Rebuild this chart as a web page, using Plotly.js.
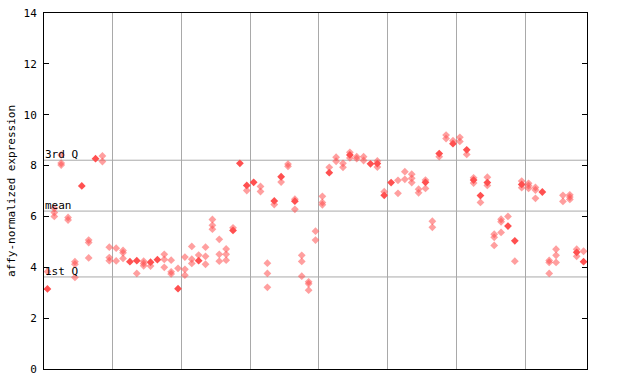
<!DOCTYPE html>
<html>
<head>
<meta charset="utf-8">
<script src="https://cdn.plot.ly/plotly-3.0.1.min.js"></script>
<style>html,body{margin:0;padding:0;background:#fff}#chart{width:640px;height:384px}</style>
</head>
<body>
<div id="chart"></div>
<script>
// Sample index (0..78) and values for the solid diamonds
const solidX = [0,5,7,12,13,15,16,19,22,27,28,29,30,33,34,36,41,44,47,48,49,50,55,57,59,61,62,63,64,67,68,69,72,77,78];
const solidY = [3.15,7.2,8.27,4.22,4.26,4.2,4.3,3.16,4.26,5.45,8.09,7.22,7.34,6.61,7.56,6.6,7.72,8.42,8.07,8.08,6.83,7.33,7.34,8.47,8.86,8.62,7.43,6.82,7.33,5.62,5.04,7.26,6.96,4.59,4.22];

// Sample index and values for the hatched (lighter) diamonds
const hatchX = [0,1,1,1,2,2,2,3,3,4,4,4,6,6,6,8,8,9,9,9,10,10,11,11,11,13,14,14,14,15,17,17,17,18,18,18,19,20,20,20,21,21,21,22,23,23,23,24,24,24,25,25,25,26,26,26,27,29,31,31,32,32,32,33,34,35,35,36,36,37,37,37,38,38,38,39,39,
  40,40,40,41,42,42,43,43,44,44,45,45,46,46,48,48,49,51,51,52,52,53,53,53,54,54,55,55,56,56,57,58,58,59,60,60,61,62,62,63,64,64,65,65,65,66,66,66,67,68,69,69,70,70,70,71,71,71,73,73,73,74,74,74,75,75,76,76,76,77,77,78];
const hatchY = [3.83,6.32,6.15,6.0,8.42,8.1,8.02,5.96,5.86,4.22,4.12,3.6,5.07,4.97,4.37,8.38,8.16,4.79,4.38,4.26,4.75,4.25,4.66,4.57,4.35,3.76,4.24,4.15,4.06,4.05,4.51,4.31,4.0,4.28,3.82,3.74,3.96,4.4,3.92,3.69,4.82,4.32,4.15,4.48,4.79,4.43,4.12,5.88,5.65,5.5,5.1,4.51,4.24,4.72,4.51,4.28,5.55,7.02,7.18,6.98,4.16,3.76,3.21,6.47,7.35,8.06,7.97,6.68,6.28,4.47,4.23,3.65,3.43,3.35,3.1,5.42,5.07,
  6.79,6.55,6.46,7.93,8.33,8.17,8.09,7.93,8.52,8.3,8.35,8.27,8.35,8.2,8.18,7.94,6.97,7.42,6.91,7.76,7.46,7.66,7.5,7.33,7.07,6.93,7.43,7.1,5.81,5.57,8.35,9.2,9.06,8.98,9.11,8.95,8.44,7.52,7.31,6.55,7.54,7.22,5.3,5.18,4.86,5.89,5.79,5.37,6.0,4.24,7.39,7.13,7.3,7.21,7.1,7.14,7.04,6.71,4.27,4.19,3.76,4.71,4.47,4.19,6.83,6.59,6.85,6.76,6.67,4.71,4.43,4.63];

// Reference lines
const refNames = ["3rd Q", "mean", "1st Q"];
const refValues = [8.21, 6.21, 3.62];

// Group separators (every 10 samples)
const groupBreaks = [9.5, 19.5, 29.5, 39.5, 49.5, 59.5, 69.5];
const nSamples = 79;

const yTicks = [0, 2, 4, 6, 8, 10, 12, 14];

const font = {family: "DejaVu Sans Mono, monospace", size: 11, color: "#000"};

const traces = [
  {x: hatchX, y: hatchY, type: "scatter", mode: "markers", hoverinfo: "skip",
   marker: {symbol: "diamond", size: 6, color: "rgba(255,80,80,0.55)", line: {width: 0}}},
  {x: solidX, y: solidY, type: "scatter", mode: "markers", hoverinfo: "skip",
   marker: {symbol: "diamond", size: 6, color: "#ff5050", line: {width: 0}}}
];

const shapes = refValues.map(v => ({
  type: "line", xref: "paper", x0: 0, x1: 1, yref: "y", y0: v, y1: v,
  line: {color: "#a9a9a9", width: 1}, layer: "below"
}));

const annotations = refValues.map((v, i) => ({
  xref: "paper", x: 0, xanchor: "left", yref: "y", y: v, yanchor: "bottom",
  text: refNames[i], showarrow: false, font: font, borderpad: 0, yshift: -2
}));

const layout = {
  width: 640, height: 384,
  margin: {l: 44, r: 53, t: 13, b: 15},
  paper_bgcolor: "#fff", plot_bgcolor: "#fff",
  showlegend: false,
  font: font,
  xaxis: {
    range: [-0.5, nSamples - 0.5], tickvals: groupBreaks, showticklabels: false,
    ticks: "", showgrid: true, gridcolor: "#a9a9a9", gridwidth: 1, zeroline: false,
    showline: true, linecolor: "#000", linewidth: 1, mirror: true, fixedrange: true
  },
  yaxis: {
    range: [0, 14], tickvals: yTicks, ticktext: yTicks.map(String),
    ticks: "inside", ticklen: 5, tickcolor: "#000", showgrid: false, zeroline: false,
    showline: true, linecolor: "#000", linewidth: 1, mirror: "ticks",
    tickfont: font, ticklabelstandoff: 4,
    title: {text: "affy-normalized expression", font: font, standoff: 5}
  },
  shapes: shapes,
  annotations: annotations
};

Plotly.newPlot("chart", traces, layout, {staticPlot: true, displayModeBar: false});
</script>
</body>
</html>
